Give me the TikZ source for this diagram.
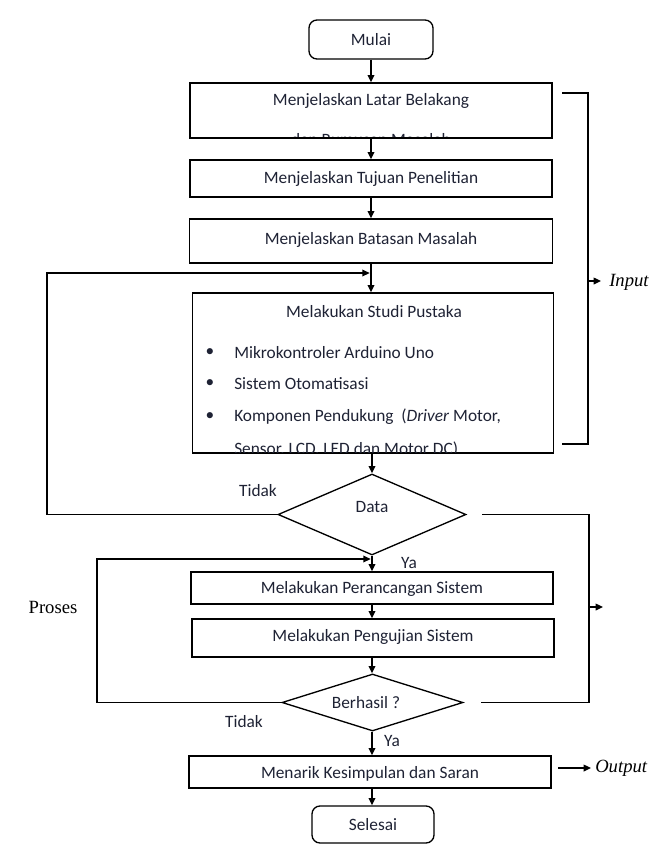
\documentclass[tikz,border=0pt]{standalone}
\usepackage{fontspec}
\setmainfont{Carlito}
\newfontfamily\tnr{Liberation Serif}
\usetikzlibrary{arrows.meta,shapes.geometric}
\definecolor{txt}{RGB}{30,34,52}
\begin{document}
\begin{tikzpicture}[x=0.75pt,y=-0.75pt,
  lw/.style={line width=1pt},
  box/.style={draw, lw, inner sep=0pt},
  term/.style={box, rounded corners=6pt},
  dec/.style={draw, lw, diamond, inner sep=0pt},
  lbl/.style={text=txt, font=\fontsize{13}{15}\selectfont, inner sep=0pt},
  slbl/.style={text=black, font=\tnr\fontsize{14}{16}\selectfont, inner sep=0pt},
  arr/.style={lw, -{Triangle[length=5.5pt,width=5pt]}},
  ln/.style={lw}]
\useasboundingbox (0,0) rectangle (664,844);
% shapes
\node[term, minimum width=124*0.75pt, minimum height=39*0.75pt] (mulai) at (371,39.5) {};
\node[lbl] (mulait) at (371,39.5) {Mulai};
\node[box, minimum width=362*0.75pt, minimum height=55*0.75pt] (b1) at (371,110.5) {};
\node[lbl] (b1t) at (371,101) {Menjelaskan Latar Belakang};
\begin{scope}
  \clip (190,84) rectangle (552,136);
  \node[lbl, anchor=base] (b1c) at (371,145) {dan Rumusan Masalah};
\end{scope}
\node[box, minimum width=362*0.75pt, minimum height=37*0.75pt] (b2) at (371,178.5) {};
\node[lbl] (b2t) at (371,178.5) {Menjelaskan Tujuan Penelitian};
\node[box, minimum width=363*0.75pt, minimum height=44*0.75pt] (b3) at (371,241) {};
\node[lbl] (b3t) at (371,240) {Menjelaskan Batasan Masalah};
\node[box, minimum width=361*0.75pt, minimum height=160*0.75pt] (b4) at (373,373) {};
\node[lbl] (b4t) at (374,312) {Melakukan Studi Pustaka};
\node[lbl] (d1) at (210,353) {\textbullet};
\node[lbl] (d2) at (210,384) {\textbullet};
\node[lbl] (d3) at (210,417) {\textbullet};
\node[lbl, anchor=west] (i1) at (234,353) {Mikrokontroler Arduino Uno};
\node[lbl, anchor=west] (i2) at (234,384) {Sistem Otomatisasi};
\node[lbl, anchor=west] (i3) at (234,417) {Komponen Pendukung\ \ (\textit{Driver} Motor,};
\begin{scope}
  \clip (194,294) rectangle (553,452);
  \node[lbl, anchor=west] (i4) at (234,449) {Sensor, LCD, LED dan Motor DC)};
\end{scope}
\node[dec, minimum width=188*0.75pt, minimum height=81*0.75pt] (data) at (372,514.5) {};
\node[lbl] (datat) at (372,507) {Data};
\node[box, minimum width=362*0.75pt, minimum height=32*0.75pt] (b5) at (372,588) {};
\node[lbl] (b5t) at (372,589) {Melakukan Perancangan Sistem};
\node[box, minimum width=362*0.75pt, minimum height=38*0.75pt] (b6) at (373,638) {};
\node[lbl] (b6t) at (373,637) {Melakukan Pengujian Sistem};
\node[dec, minimum width=181*0.75pt, minimum height=57*0.75pt] (ber) at (372.5,702.5) {};
\node[lbl] (bert) at (366,703) {Berhasil ?};
\node[box, minimum width=362*0.75pt, minimum height=32*0.75pt] (b7) at (370,772) {};
\node[lbl] (b7t) at (370,774) {Menarik Kesimpulan dan Saran};
\node[term, minimum width=122*0.75pt, minimum height=37*0.75pt] (sel) at (373,824.5) {};
\node[lbl] (selt) at (373,825) {Selesai};
% labels
\node[lbl] (tid1) at (258,491) {Tidak};
\node[lbl] (ya1) at (409,563) {Ya};
\node[lbl] (tid2) at (244,722) {Tidak};
\node[lbl] (ya2) at (392,741) {Ya};
\node[slbl] (proses) at (53,607) {Proses};
\node[slbl, anchor=west] (inp) at (609,282) {\itshape Input};
\node[slbl, anchor=west] (outp) at (595,768) {\itshape Output};
% coordinates
\coordinate (j1) at (371,273);
\coordinate (j2) at (372,559);
\coordinate (in1) at (562,93);
\coordinate (in2) at (562,444);
\coordinate (ia) at (601,281);
\coordinate (pr1) at (482,514.5);
\coordinate (pr2) at (481,702.5);
\coordinate (pa) at (603,607);
\coordinate (oa1) at (558,768);
\coordinate (oa2) at (591,768);
% main flow
\draw[arr] (mulai.south) -- (mulai.south |- b1.north);
\draw[arr] (b1.south -| mulai.south) -- (mulai.south |- b2.north);
\draw[arr] (b2.south -| mulai.south) -- (mulai.south |- b3.north);
\draw[arr] (b3.south -| mulai.south) -- (mulai.south |- b4.north);
\draw[arr] (b4.south -| data.north) -- (data.north);
\draw[arr] (data.south) -- (data.south |- b5.north);
\draw[arr] (b5.south -| data.south) -- (data.south |- b6.north);
\draw[arr] (b6.south -| data.south) -- (data.south |- ber.north);
\draw[arr] (ber.south -| data.south) -- (data.south |- b7.north);
\draw[arr] (b7.south -| data.south) -- (data.south |- sel.north);
% feedback loops
\draw[arr] (data.west) -- (47,514.5) -- (47,273) -- ([xshift=-1pt]j1);
\draw[arr] (ber.west) -- (97,702.5) -- (97,559) -- ([xshift=-1pt]j2);
% input bracket
\draw[ln] (in1) -- (588,93) -- (588,444) -- (in2);
\draw[arr] (588,281) -- (ia);
% process bracket
\draw[ln] (pr1) -- (589,514.5) -- (589,702.5) -- (pr2);
\draw[arr] (589,607) -- (pa);
% output
\draw[arr] (oa1) -- (oa2);
\end{tikzpicture}
\end{document}
